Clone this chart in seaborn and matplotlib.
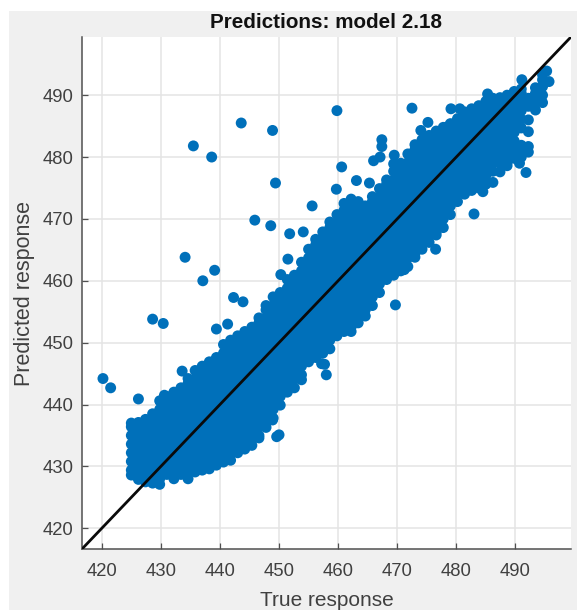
import matplotlib
matplotlib.use('Agg')
import matplotlib.pyplot as plt
import pandas as pd
import seaborn as sns
from matplotlib.patches import Rectangle

# stray points away from the main band
outlier_true = [435.5, 438.6, 443.6, 448.9, 449.4, 455.6, 445.9, 448.6, 451.8, 454.1, 434.1, 439.1, 437.1, 442.3, 443.9,
                451.5, 450.3, 428.6, 430.4, 420.2, 421.5, 426.2, 439.4, 441.3, 433.6, 430.6, 448.9, 450.0, 449.6, 458.0,
                457.2, 457.7, 459.8, 472.5, 460.6, 459.7, 463.1, 465.3, 466.0, 467.1, 467.4, 467.4, 469.5, 469.4, 475.2,
                474.0, 478.5, 479.1, 480.6, 485.3, 491.1, 495.3, 495.7, 490.7, 491.8, 483.0, 469.7, 476.5, 471.2, 484.5]
outlier_pred = [481.8, 480.0, 485.5, 484.3, 475.8, 472.1, 469.8, 468.9, 467.6, 467.9, 463.8, 461.7, 460.0, 457.3, 456.6,
                463.5, 461.0, 453.8, 453.1, 444.2, 442.7, 440.9, 452.2, 453.0, 445.4, 441.5, 437.5, 435.1, 434.8, 444.8,
                446.6, 446.5, 487.5, 487.9, 478.4, 474.8, 476.2, 475.8, 479.4, 480.0, 482.8, 481.7, 480.3, 478.9, 485.6,
                484.3, 484.9, 487.8, 487.8, 490.2, 492.5, 493.9, 492.2, 479.0, 477.5, 470.8, 456.1, 465.1, 461.8, 474.4]

# main band, read column by column
band_true = [425.0, 426.2, 427.4, 428.6, 429.8, 431.0, 432.2, 433.4, 434.6, 435.8, 437.0, 438.2, 439.4, 440.6, 441.8,
             443.0, 444.2, 445.4, 446.6, 447.8, 449.0, 450.2, 451.4, 452.6, 453.8, 455.0, 456.2, 457.4, 458.6, 459.8,
             461.0, 462.2, 463.4, 464.6, 465.8, 467.0, 468.2, 469.4, 470.6, 471.8, 473.0, 474.2, 475.4, 476.6, 477.8,
             479.0, 480.2, 481.4, 482.6, 483.8, 485.0, 486.2, 487.4, 488.6, 489.8, 491.0, 492.2, 493.4, 494.6]
band_pred = [
    [428.6, 429.4, 430.8, 432.2, 433.6, 435.0, 436.4, 437.0],
    [427.9, 428.7, 430.1, 431.5, 432.9, 434.3, 435.7, 437.1],
    [427.5, 428.0, 429.4, 430.8, 432.2, 433.6, 435.0, 436.4, 437.6],
    [427.3, 428.7, 430.1, 431.5, 432.9, 434.3, 435.7, 437.1, 438.5],
    [427.1, 428.0, 429.4, 430.8, 432.2, 433.6, 435.0, 436.4, 437.8, 439.2, 440.6],
    [428.7, 430.1, 431.5, 432.9, 434.3, 435.7, 437.1, 438.5, 439.9, 441.3],
    [428.0, 429.4, 430.8, 432.2, 433.6, 435.0, 436.4, 437.8, 439.2, 440.6, 442.0],
    [428.7, 430.1, 431.5, 432.9, 434.3, 435.7, 437.1, 438.5, 439.9, 441.3, 442.7],
    [428.0, 429.4, 430.8, 432.2, 433.6, 435.0, 436.4, 437.8, 439.2, 440.6, 442.0, 443.4, 444.2],
    [429.1, 430.1, 431.5, 432.9, 434.3, 435.7, 437.1, 438.5, 439.9, 441.3, 442.7, 444.1, 445.5],
    [429.4, 430.8, 432.2, 433.6, 435.0, 436.4, 437.8, 439.2, 440.6, 442.0, 443.4, 444.8, 446.2],
    [429.6, 430.1, 431.5, 432.9, 434.3, 435.7, 437.1, 438.5, 439.9, 441.3, 442.7, 444.1, 445.5, 446.9],
    [430.2, 430.8, 432.2, 433.6, 435.0, 436.4, 437.8, 439.2, 440.6, 442.0, 443.4, 444.8, 446.2, 447.6],
    [430.7, 431.5, 432.9, 434.3, 435.7, 437.1, 438.5, 439.9, 441.3, 442.7, 444.1, 445.5, 446.9, 448.3, 449.7],
    [431.0, 432.2, 433.6, 435.0, 436.4, 437.8, 439.2, 440.6, 442.0, 443.4, 444.8, 446.2, 447.6, 449.0, 450.4],
    [432.2, 432.9, 434.3, 435.7, 437.1, 438.5, 439.9, 441.3, 442.7, 444.1, 445.5, 446.9, 448.3, 449.7, 451.1],
    [432.8, 433.6, 435.0, 436.4, 437.8, 439.2, 440.6, 442.0, 443.4, 444.8, 446.2, 447.6, 449.0, 450.4, 451.8],
    [433.4, 434.3, 435.7, 437.1, 438.5, 439.9, 441.3, 442.7, 444.1, 445.5, 446.9, 448.3, 449.7, 451.1, 452.5],
    [434.6, 435.0, 436.4, 437.8, 439.2, 440.6, 442.0, 443.4, 444.8, 446.2, 447.6, 449.0, 450.4, 451.8, 453.2, 454.0],
    [436.3, 437.1, 438.5, 439.9, 441.3, 442.7, 444.1, 445.5, 446.9, 448.3, 449.7, 451.1, 452.5, 453.9, 455.3, 456.0],
    [437.8, 439.2, 440.6, 442.0, 443.4, 444.8, 446.2, 447.6, 449.0, 450.4, 451.8, 453.2, 454.6, 456.0, 457.4],
    [439.9, 441.3, 442.7, 444.1, 445.5, 446.9, 448.3, 449.7, 451.1, 452.5, 453.9, 455.3, 456.7, 458.1],
    [442.0, 443.4, 444.8, 446.2, 447.6, 449.0, 450.4, 451.8, 453.2, 454.6, 456.0, 457.4, 458.8, 460.2],
    [442.7, 444.1, 445.5, 446.9, 448.3, 449.7, 451.1, 452.5, 453.9, 455.3, 456.7, 458.1, 459.5, 460.9],
    [444.0, 444.8, 446.2, 447.6, 449.0, 450.4, 451.8, 453.2, 454.6, 456.0, 457.4, 458.8, 460.2, 461.6, 463.0],
    [446.9, 448.3, 449.7, 451.1, 452.5, 453.9, 455.3, 456.7, 458.1, 459.5, 460.9, 462.3, 463.7, 465.1],
    [447.6, 449.0, 450.4, 451.8, 453.2, 454.6, 456.0, 457.4, 458.8, 460.2, 461.6, 463.0, 464.4, 465.8, 466.7],
    [448.3, 449.7, 451.1, 452.5, 453.9, 455.3, 456.7, 458.1, 459.5, 460.9, 462.3, 463.7, 465.1, 466.5, 467.9],
    [449.0, 450.4, 451.8, 453.2, 454.6, 456.0, 457.4, 458.8, 460.2, 461.6, 463.0, 464.4, 465.8, 467.2, 468.6, 469.5],
    [451.1, 452.5, 453.9, 455.3, 456.7, 458.1, 459.5, 460.9, 462.3, 463.7, 465.1, 466.5, 467.9, 469.3, 470.7],
    [451.8, 453.2, 454.6, 456.0, 457.4, 458.8, 460.2, 461.6, 463.0, 464.4, 465.8, 467.2, 468.6, 470.0, 471.4, 472.5],
    [451.8, 452.5, 453.9, 455.3, 456.7, 458.1, 459.5, 460.9, 462.3, 463.7, 465.1, 466.5, 467.9, 469.3, 470.7, 472.1, 473.2],
    [453.2, 454.6, 456.0, 457.4, 458.8, 460.2, 461.6, 463.0, 464.4, 465.8, 467.2, 468.6, 470.0, 471.4, 472.8],
    [454.3, 455.3, 456.7, 458.1, 459.5, 460.9, 462.3, 463.7, 465.1, 466.5, 467.9, 469.3, 470.7, 472.1],
    [456.0, 457.4, 458.8, 460.2, 461.6, 463.0, 464.4, 465.8, 467.2, 468.6, 470.0, 471.4, 472.8, 473.6],
    [458.1, 459.5, 460.9, 462.3, 463.7, 465.1, 466.5, 467.9, 469.3, 470.7, 472.1, 473.5, 474.9],
    [460.2, 461.6, 463.0, 464.4, 465.8, 467.2, 468.6, 470.0, 471.4, 472.8, 474.2, 475.6, 476.3],
    [460.9, 462.3, 463.7, 465.1, 466.5, 467.9, 469.3, 470.7, 472.1, 473.5, 474.9, 476.3, 477.7],
    [461.6, 463.0, 464.4, 465.8, 467.2, 468.6, 470.0, 471.4, 472.8, 474.2, 475.6, 477.0, 478.4, 479.0],
    [462.3, 463.7, 465.1, 466.5, 467.9, 469.3, 470.7, 472.1, 473.5, 474.9, 476.3, 477.7, 479.1, 480.5],
    [463.8, 464.4, 465.8, 467.2, 468.6, 470.0, 471.4, 472.8, 474.2, 475.6, 477.0, 478.4, 479.8, 481.2, 482.0],
    [465.1, 466.5, 467.9, 469.3, 470.7, 472.1, 473.5, 474.9, 476.3, 477.7, 479.1, 480.5, 481.9, 482.8],
    [466.2, 467.2, 468.6, 470.0, 471.4, 472.8, 474.2, 475.6, 477.0, 478.4, 479.8, 481.2, 482.6, 483.5],
    [467.4, 467.9, 469.3, 470.7, 472.1, 473.5, 474.9, 476.3, 477.7, 479.1, 480.5, 481.9, 483.3, 484.2],
    [468.6, 470.0, 471.4, 472.8, 474.2, 475.6, 477.0, 478.4, 479.8, 481.2, 482.6, 484.0, 484.8],
    [470.7, 472.1, 473.5, 474.9, 476.3, 477.7, 479.1, 480.5, 481.9, 483.3, 484.7, 485.4],
    [472.8, 474.2, 475.6, 477.0, 478.4, 479.8, 481.2, 482.6, 484.0, 485.4, 486.2],
    [474.0, 474.9, 476.3, 477.7, 479.1, 480.5, 481.9, 483.3, 484.7, 486.1, 487.3],
    [474.6, 475.6, 477.0, 478.4, 479.8, 481.2, 482.6, 484.0, 485.4, 486.8, 487.8],
    [475.0, 476.3, 477.7, 479.1, 480.5, 481.9, 483.3, 484.7, 486.1, 487.5, 488.3],
    [475.6, 477.0, 478.4, 479.8, 481.2, 482.6, 484.0, 485.4, 486.8, 488.2, 489.0],
    [475.9, 477.7, 479.1, 480.5, 481.9, 483.3, 484.7, 486.1, 487.5, 488.9, 489.5],
    [477.6, 479.0, 479.8, 481.2, 482.6, 484.0, 485.4, 486.8, 488.2, 489.6],
    [478.6, 479.1, 480.5, 481.9, 483.3, 484.7, 486.1, 487.5, 488.9, 490.0],
    [479.8, 481.2, 482.6, 484.0, 485.4, 486.8, 488.2, 489.6, 490.6],
    [480.0, 480.5, 481.9, 484.7, 486.1, 487.5, 488.9, 490.3, 491.0],
    [480.8, 481.7, 484.1, 486.0, 488.2, 489.5],
    [487.6, 488.9, 490.3, 491.2],
    [488.8, 490.0, 491.4, 492.5, 493.3],
]
perfect_line = [416.6, 499.45]
tick_values = [420, 430, 440, 450, 460, 470, 480, 490]

true_all = list(outlier_true)
pred_all = list(outlier_pred)
for x_value, column in zip(band_true, band_pred):
    for y_value in column:
        true_all.append(x_value)
        pred_all.append(y_value)
points = pd.DataFrame({'true': true_all, 'pred': pred_all})

sns.set_style('white')
plt.rcParams['font.family'] = ['Liberation Sans', 'DejaVu Sans']

fig = plt.figure(figsize=(5.77, 6.10), dpi=100, facecolor='white')
# grey window behind the axes, white strip left and on top
fig.patches.append(Rectangle((9 / 577, 0), 568 / 577, 599 / 610, transform=fig.transFigure,
                             facecolor='#f0f0f0', edgecolor='none', figure=fig, zorder=-1))
ax = fig.add_axes([81.7 / 577, 60.7 / 610, 489.5 / 577, 512.6 / 610], facecolor='white')

sns.scatterplot(data=points, x='true', y='pred', ax=ax, s=62, color='#0070BA', edgecolor='none', linewidth=0,
                zorder=3, clip_on=True)
ax.plot(perfect_line, perfect_line, color='#0a0a0a', linewidth=2.0, zorder=4)

ax.set_xlim(perfect_line)
ax.set_ylim(perfect_line)
ax.set_xticks(tick_values)
ax.set_yticks(tick_values)
ax.grid(True, color='#e4e4e4', linewidth=1.1, zorder=0)
ax.set_axisbelow(True)

for side in ['top', 'right']:
    ax.spines[side].set_visible(False)
for side in ['left', 'bottom']:
    ax.spines[side].set_color('#505050')
    ax.spines[side].set_linewidth(1.1)

ax.tick_params(axis='both', direction='in', length=4, width=0.9, color='#505050', labelcolor='#404040',
               labelsize=13.3, bottom=True, left=True)
ax.tick_params(axis='x', pad=10)
ax.tick_params(axis='y', pad=6)
ax.set_xlabel('True response', fontsize=15, color='#404040', labelpad=8)
ax.set_ylabel('Predicted response', fontsize=15.5, color='#404040', labelpad=5)
ax.set_title('Predictions: model 2.18', fontsize=14.9, fontweight='bold', color='#111111', pad=6)

fig.savefig('out.png', dpi=100, facecolor=fig.get_facecolor())
